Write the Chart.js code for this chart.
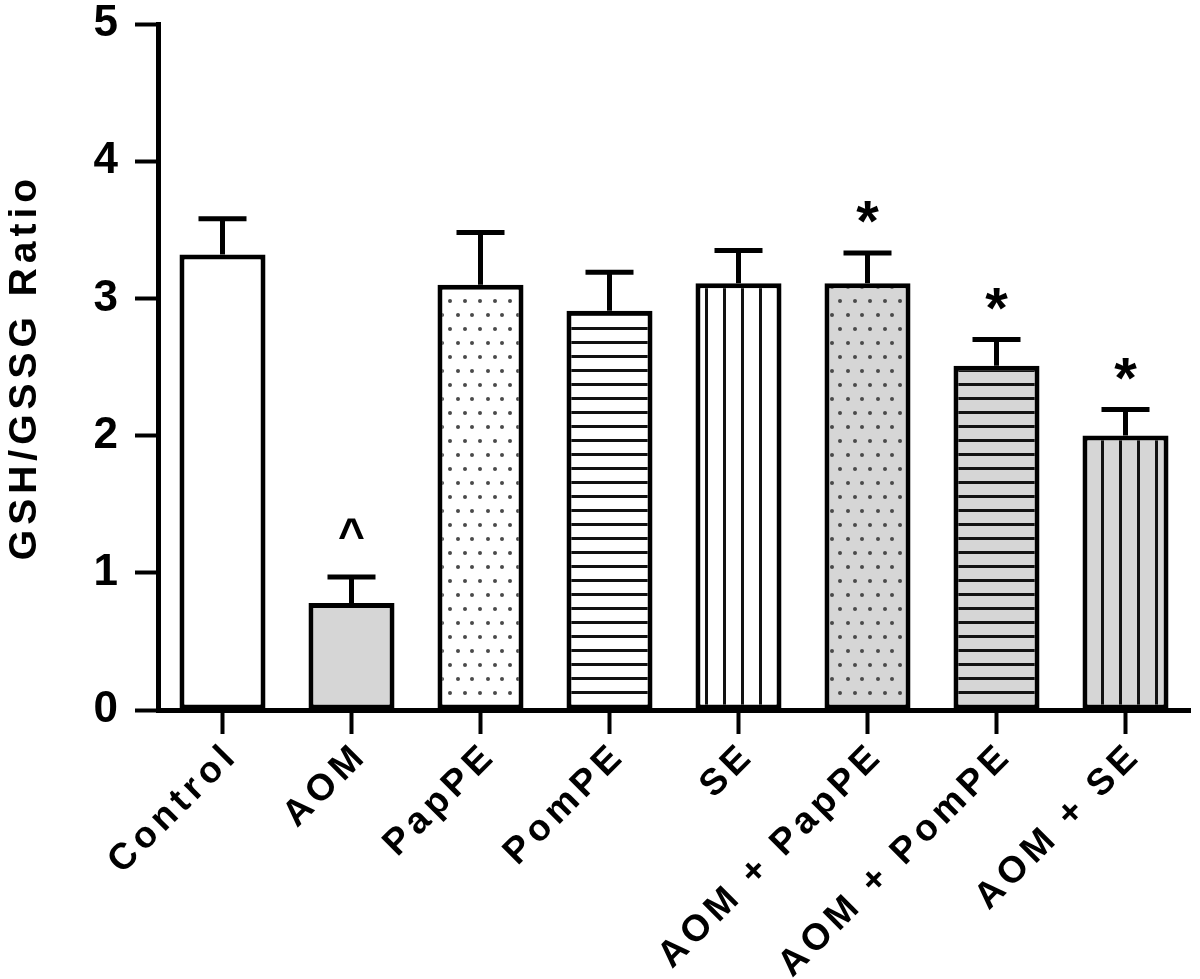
<!DOCTYPE html>
<html>
<head>
<meta charset="utf-8">
<script src="https://cdn.jsdelivr.net/npm/chart.js@4"></script>
<style>
  body { margin: 0; background: #fff; }
  #wrap { width: 1200px; height: 979px; }
</style>
</head>
<body>
<div id="wrap"><canvas id="grafico" width="1200" height="979"></canvas></div>
<script>
// datos
const grupos = ['Control', 'AOM', 'PapPE', 'PomPE', 'SE', 'AOM + PapPE', 'AOM + PomPE', 'AOM + SE'];
const medias = [3.32, 0.78, 3.10, 2.91, 3.11, 3.11, 2.51, 2.00];
const errores = [0.26, 0.19, 0.38, 0.28, 0.24, 0.22, 0.19, 0.19];
const marcas = ['', '^', '', '', '', '*', '*', '*'];
const ticksY = [0, 1, 2, 3, 4, 5];

// estilo de cada barra
const fondos = ['#ffffff', '#d6d6d6', '#ffffff', '#ffffff', '#ffffff', '#d6d6d6', '#d6d6d6', '#d6d6d6'];
const tramas = ['', '', 'puntos', 'horiz', 'vert', 'puntos', 'horiz', 'vert'];

const FUENTE = '"Liberation Sans", Arial, sans-serif';

function crearTrama(fondo, tipo) {
    if (!tipo) return fondo;
    const c = document.createElement('canvas');
    const g = c.getContext('2d');
    if (tipo === 'horiz') {
        c.width = 8; c.height = 14;
        g.fillStyle = fondo; g.fillRect(0, 0, 8, 14);
        g.fillStyle = '#111'; g.fillRect(0, 5, 8, 3);
    } else if (tipo === 'vert') {
        c.width = 18; c.height = 8;
        g.fillStyle = fondo; g.fillRect(0, 0, 18, 8);
        g.fillStyle = '#111'; g.fillRect(3, 0, 3, 8);
    } else {
        c.width = 30; c.height = 28;
        g.fillStyle = fondo; g.fillRect(0, 0, 30, 28);
        g.fillStyle = '#4a4a4a';
        [[8, 7], [22, 7], [0, 21], [15, 21], [30, 21]].forEach(function (p) {
            g.beginPath(); g.arc(p[0], p[1], 2, 0, Math.PI * 2); g.fill();
        });
    }
    return g.createPattern(c, 'repeat');
}

const espaciado = {
    id: 'espaciado',
    beforeUpdate(chart) { chart.ctx.letterSpacing = '5px'; },
    beforeDraw(chart) { chart.ctx.letterSpacing = '5px'; }
};

const barrasError = {
    id: 'barrasError',
    afterDatasetsDraw(chart) {
        const ctx = chart.ctx;
        const y = chart.scales.y;
        const meta = chart.getDatasetMeta(0);
        ctx.save();
        ctx.letterSpacing = '0px';
        ctx.strokeStyle = '#000';
        ctx.fillStyle = '#000';
        ctx.lineWidth = 5;
        meta.data.forEach(function (bar, i) {
            const yTop = y.getPixelForValue(medias[i]);
            const yCap = y.getPixelForValue(medias[i] + errores[i]);
            ctx.beginPath();
            ctx.moveTo(bar.x, yTop);
            ctx.lineTo(bar.x, yCap);
            ctx.moveTo(bar.x - 24, yCap);
            ctx.lineTo(bar.x + 24, yCap);
            ctx.stroke();
            if (marcas[i]) {
                ctx.textAlign = 'center';
                ctx.textBaseline = 'alphabetic';
                if (marcas[i] === '*') {
                    ctx.font = 'bold 58px ' + FUENTE;
                    ctx.fillText('*', bar.x, yCap - 12);
                } else {
                    ctx.font = 'bold 46px ' + FUENTE;
                    ctx.fillText('^', bar.x, yCap - 26);
                }
            }
        });
        ctx.restore();
    }
};

const ctx = document.getElementById('grafico').getContext('2d');

new Chart(ctx, {
    type: 'bar',
    data: {
        labels: grupos,
        datasets: [{
            data: medias,
            backgroundColor: fondos.map(function (f, i) { return crearTrama(f, tramas[i]); }),
            borderColor: '#000',
            borderWidth: 5,
            borderSkipped: false,
            barPercentage: 0.667,
            categoryPercentage: 1
        }]
    },
    options: {
        responsive: false,
        animation: false,
        devicePixelRatio: 1,
        layout: { padding: { top: 24, right: 10, bottom: 0, left: 0 } },
        plugins: {
            legend: { display: false },
            tooltip: { enabled: false }
        },
        scales: {
            x: {
                offset: true,
                border: { display: true, color: '#000', width: 5 },
                grid: {
                    offset: false,
                    drawOnChartArea: false,
                    drawTicks: true,
                    tickLength: 24,
                    tickWidth: 4,
                    color: '#000'
                },
                ticks: {
                    color: '#000',
                    font: { family: FUENTE, size: 37, weight: 'bold' },
                    minRotation: 45,
                    maxRotation: 45,
                    padding: 0,
                    labelOffset: 10,
                    autoSkip: false
                },
                afterFit(scale) { scale.height = 269; }
            },
            y: {
                min: 0,
                max: 5,
                afterBuildTicks(scale) { scale.ticks = ticksY.map(function (v) { return { value: v }; }); },
                border: { display: true, color: '#000', width: 5 },
                grid: {
                    drawOnChartArea: false,
                    drawTicks: true,
                    tickLength: 23,
                    tickWidth: 4,
                    color: '#000'
                },
                ticks: {
                    color: '#000',
                    font: { family: FUENTE, size: 44, weight: 'bold', lineHeight: 0.5 },
                    padding: 12
                },
                title: {
                    display: true,
                    text: 'GSH/GSSG Ratio',
                    color: '#000',
                    font: { family: FUENTE, size: 39, weight: 'bold' },
                    padding: { top: 2, bottom: 0 }
                },
                afterFit(scale) {
                    scale.width = 158;
                    scale.paddingTop = 0;
                    scale.paddingBottom = 0;
                }
            }
        }
    },
    plugins: [espaciado, barrasError]
});
</script>
</body>
</html>
